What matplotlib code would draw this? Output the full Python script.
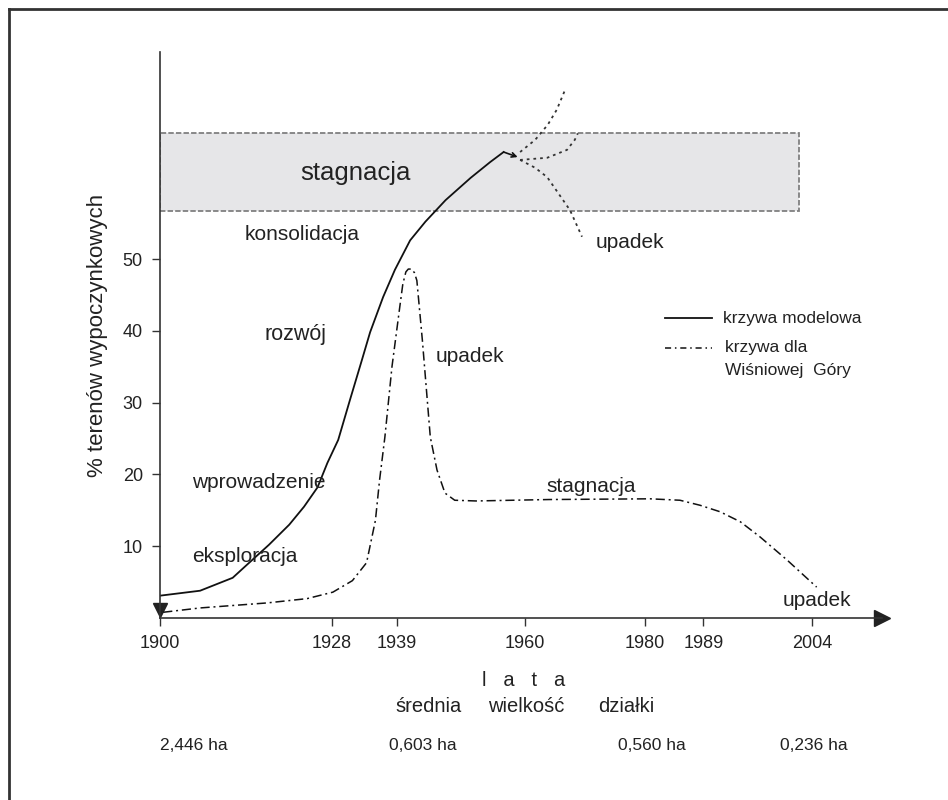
import numpy as np
import matplotlib
matplotlib.use("Agg")
import matplotlib.pyplot as plt
from matplotlib.patches import Rectangle
from matplotlib.lines import Line2D

plt.rcParams['font.family'] = ['Liberation Sans', 'DejaVu Sans']

# lata na osi x (nieliniowy, schematyczny rozstaw jak w oryginale)
tick_years = [1900, 1928, 1939, 1960, 1980, 1989, 2004]
tick_pos = [159.5, 331.7, 396.7, 525.0, 645.0, 703.3, 812.3]
y_ticks = [10, 20, 30, 40, 50]

# krzywa modelowa
model_years = [1900, 1906.6, 1911.9, 1914.2, 1917.8, 1921.1, 1923.5, 1925.7,
               1927.3, 1929.1, 1931.1, 1933.1, 1934.5, 1936.7, 1938.7, 1941.2,
               1943.7, 1947.0, 1951.1, 1954.3, 1956.5]
model_vals = [3.1, 3.8, 5.6, 7.4, 10.2, 13.0, 15.5, 18.2,
              21.6, 24.8, 30.4, 35.9, 39.8, 44.7, 48.5, 52.6,
              55.2, 58.2, 61.3, 63.5, 64.9]
model_tip = (1958.8, 64.2)

# warianty po stagnacji (kropkowane)
up_years = [1959.2, 1961.7, 1963.8, 1965.3, 1966.3, 1966.8]
up_vals = [64.9, 66.6, 68.7, 70.8, 72.8, 73.8]
mid_years = [1959.2, 1963.7, 1967.0, 1968.3, 1968.8]
mid_vals = [63.8, 64.1, 65.2, 66.6, 67.5]
down_years = [1959.2, 1961.7, 1963.7, 1967.5, 1969.5]
down_vals = [63.8, 62.7, 61.4, 56.8, 53.1]

# krzywa dla Wiśniowej Góry
wg_years = [1900.6, 1906.6, 1917.5, 1924.0, 1928.2, 1931.5, 1933.9, 1935.4,
            1936.1, 1937.0, 1938.2, 1939.5, 1940.0, 1940.5, 1940.9, 1941.4,
            1941.9, 1942.3, 1943.2, 1944.5, 1945.6, 1946.9, 1948.5, 1952.0,
            1964.0, 1980.8, 1985.4, 1988.5, 1991.3, 1994.1, 1996.8, 2000.5,
            2004.6]
wg_vals = [0.8, 1.4, 2.1, 2.7, 3.6, 5.2, 7.7, 13.6,
           19.2, 25.2, 35.0, 43.3, 46.5, 48.2, 48.6, 48.6,
           48.1, 47.0, 38.7, 25.2, 20.6, 17.4, 16.4, 16.3,
           16.5, 16.6, 16.4, 15.7, 14.8, 13.4, 11.3, 8.1,
           4.3]

# pas stagnacji
band_years = (1900, 2002.2)
band_vals = (56.7, 67.5)

# średnia wielkość działki
plot_sizes = ["2,446 ha", "0,603 ha", "0,560 ha", "0,236 ha"]

W, H = 948, 800
ref_y = [1880] + tick_years + [2030]
ref_p = [36.5] + tick_pos + [1001.3]


def fwd(v):
    return np.interp(v, ref_y, ref_p)


def inv(p):
    return np.interp(p, ref_p, ref_y)


def px(x, y):
    return x / W, 1 - y / H


fig = plt.figure(figsize=(W / 100, H / 100), dpi=100)
ax = fig.add_axes([159.5 / W, (H - 618) / H, (882 - 159.5) / W, (618 - 52) / H])
ax.set_xscale('function', functions=(fwd, inv))
ax.set_xlim(1900, inv(882))
ax.set_ylim(0, (618 - 52) / 7.18)
ax.patch.set_alpha(0)

for s in ['top', 'right']:
    ax.spines[s].set_visible(False)
for s in ['left', 'bottom']:
    ax.spines[s].set_color('#333333')
    ax.spines[s].set_linewidth(1.2)

ax.set_xticks(tick_years)
ax.set_xticklabels([str(t) for t in tick_years])
ax.xaxis.set_minor_locator(matplotlib.ticker.NullLocator())
ax.set_yticks(y_ticks)
ax.tick_params(axis='both', direction='out', length=6, width=1, color='#333333',
               labelsize=13, pad=6, labelcolor='#222222')

# strzałki osi
ax.plot(1, 0, '>', color='#222222', ms=11.5, transform=ax.get_yaxis_transform(), clip_on=False)
ax.plot(1900, 1.1, 'v', color='#222222', ms=10.5, clip_on=False)

ax.add_patch(Rectangle((band_years[0], band_vals[0]), band_years[1] - band_years[0],
                       band_vals[1] - band_vals[0], facecolor='#e6e6e8',
                       edgecolor='#808080', linestyle=(0, (3, 1.2)), lw=1.3, zorder=0))

ax.plot(model_years, model_vals, color='#111111', lw=1.3)
ax.annotate('', xy=model_tip, xytext=(model_years[-1], model_vals[-1]),
            arrowprops=dict(arrowstyle='->', lw=1.2, color='#111111', mutation_scale=8,
                            shrinkA=0, shrinkB=0))
dot = (0, (1.5, 2.2))
ax.plot(up_years, up_vals, color='#333333', lw=1.3, ls=dot, clip_on=False)
ax.plot(mid_years, mid_vals, color='#333333', lw=1.3, ls=dot)
ax.plot(down_years, down_vals, color='#333333', lw=1.3, ls=dot)

dashdot = (0, (6, 2.5, 1.3, 2.5))
ax.plot(wg_years, wg_vals, color='#111111', lw=1.1, ls=dashdot)

ax.set_ylabel('% terenów wypoczynkowych', fontsize=16, color='#222222')
ax.yaxis.set_label_coords((108 - 159.5) / (882 - 159.5), 0.5)

# opisy faz
lab = dict(color='#222222', va='center', ha='left')
fig.text(*px(300, 173), 'stagnacja', fontsize=18.5, **lab)
fig.text(*px(245, 234), 'konsolidacja', fontsize=15, **lab)
fig.text(*px(596, 242), 'upadek', fontsize=15, **lab)
fig.text(*px(265, 335), 'rozwój', fontsize=15.5, **lab)
fig.text(*px(436, 357), 'upadek', fontsize=15, **lab)
fig.text(*px(192, 483), 'wprowadzenie', fontsize=15, **lab)
fig.text(*px(192, 557), 'eksploracja', fontsize=15, **lab)
fig.text(*px(546, 487), 'stagnacja', fontsize=15, **lab)
fig.text(*px(783, 600), 'upadek', fontsize=15, **lab)

# legenda
fig.add_artist(Line2D([665 / W, 712 / W], [1 - 318 / H] * 2, color='#111111', lw=1.3))
fig.add_artist(Line2D([665 / W, 712 / W], [1 - 348 / H] * 2, color='#111111', lw=1.1,
                      ls=(0, (4, 2.5, 1, 2.5))))
fig.text(*px(723, 318), 'krzywa modelowa', fontsize=12.5, **lab)
fig.text(*px(725, 347), 'krzywa dla', fontsize=12.5, **lab)
fig.text(*px(725, 370), 'Wiśniowej  Góry', fontsize=12.5, **lab)

# podpisy pod osią
fig.text(*px(524, 680), 'l   a   t   a', fontsize=14.5, color='#222222', ha='center', va='center')
fig.text(*px(395, 707), 'średnia', fontsize=14.5, **lab)
fig.text(*px(488, 707), 'wielkość', fontsize=14.5, **lab)
fig.text(*px(598, 707), 'działki', fontsize=14.5, **lab)
for xl, s in zip([160, 389, 618, 780], plot_sizes):
    fig.text(*px(xl, 745), s, fontsize=12.5, **lab)

# ramka
fig.add_artist(Line2D([9 / W, 1], [1 - 9 / H] * 2, color='#333333', lw=2))
fig.add_artist(Line2D([9 / W] * 2, [1 - 9 / H, 0], color='#333333', lw=2))

fig.savefig('out.png', dpi=100)
